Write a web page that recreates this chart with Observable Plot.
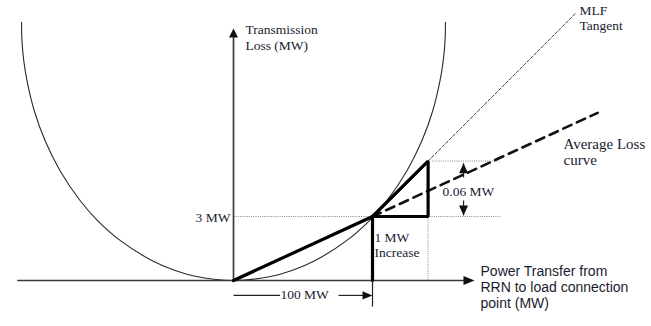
<!DOCTYPE html>
<html><head><meta charset="utf-8">
<script src="https://cdn.jsdelivr.net/npm/d3@7"></script>
<script src="https://cdn.jsdelivr.net/npm/@observablehq/plot@0.6"></script>
<style>html,body{margin:0;padding:0;background:#fff;} #chart svg{display:block;}</style>
</head><body><div id="chart"></div>
<script>
// ---- data (diagram units: x = power transfer in MW, y = transmission loss in MW) ----
const lossCurveX = [-152.5, -152.2, -150.9, -148.6, -143.4, -135.6, -124.9, -110.4, -97.8, -81.6, -58.8, -42.0, -26.8, 0,
                    26.8, 42.0, 58.8, 81.6, 97.8, 110.4, 124.9, 135.6, 143.4, 148.6, 150.9, 152.2, 152.5];
const lossCurveY = [12.10, 11.25, 10.31, 9.38, 7.97, 6.56, 5.16, 3.75, 2.81, 1.88, 0.94, 0.47, 0.19, 0,
                    0.19, 0.47, 0.94, 1.88, 2.81, 3.75, 5.16, 6.56, 7.97, 9.38, 10.31, 11.25, 12.10];

const avgLossX = [0, 100];          // average loss chord, origin to operating point
const avgLossY = [0, 3];
const avgLossExtX = [100, 262];     // dashed continuation
const avgLossExtY = [3, 7.86];
const triangleX = [100, 140, 140, 100];
const triangleY = [3, 5.6, 3, 3];
const tangentX = [140, 246];        // MLF tangent (dotted)
const tangentY = [5.6, 12.52];
const increaseX = [100, 100];       // 1 MW increase marker
const increaseY = [3, 0];

// dotted guide lines
const guideX1 = [0, 143, 140];
const guideY1 = [3, 5.6, 0];
const guideX2 = [192, 192, 140];
const guideY2 = [3, 5.6, 3];

// axes
const axisX1 = [-155.6, 0];
const axisY1 = [0, 0];
const axisX2 = [170, 0];
const axisY2 = [0, 11.5];

// thin annotation lines (dimension line, tick, 0.06 MW stems)
const noteX1 = [0, 75.5, 100, 165.5, 165.5];
const noteY1 = [-0.70, -0.70, 0, 5.5, 3.75];
const noteX2 = [33.5, 95, 100, 165.5, 165.5];
const noteY2 = [-0.70, -0.70, -1.22, 4.83, 3.05];

// arrow tips
const tipUpAxis = {x: 0, y: 11.81};
const tipRightAxis = {x: 173.4, y: 0};
const tipRightDim = {x: 100, y: -0.70};
const tipUpNote = {x: 165.5, y: 5.5};
const tipDownNote = {x: 165.5, y: 3.05};

// labels
const serifText = ["Transmission\nLoss (MW)", "MLF\nTangent", "3 MW", "1 MW\nIncrease", "0.06 MW", "100 MW"];
const serifX = [8.6, 248.9, -2.2, 101.4, 150.4, 33.8];
const serifY = [12.08, 12.98, 2.95, 2.32, 4.15, -0.675];
const serifAnchor = ["top", "top", "middle", "top", "middle", "middle"];
const serifAlign = ["start", "start", "end", "start", "start", "start"];
const serifLH = [1.19, 1.15, 1, 1.13, 1, 1];

const avgLabel = ["Average Loss\ncurve"];
const avgLabelX = [237.4];
const avgLabelY = [6.69];

const xAxisLabel = ["Power Transfer from\nRRN to load connection\npoint (MW)"];
const xAxisLabelX = [177.7];
const xAxisLabelY = [0.75];

// ---- helpers ----
const rows = (xs, ys) => xs.map((x, i) => ({x, y: ys[i]}));
const segs = (x1, y1, x2, y2) => x1.map((v, i) => ({x1: v, y1: y1[i], x2: x2[i], y2: y2[i]}));
function head(dir, L, W) {
  return {draw(ctx) {
    if (dir === "up") { ctx.moveTo(0, 0); ctx.lineTo(-W, L); ctx.lineTo(W, L); }
    else if (dir === "down") { ctx.moveTo(0, 0); ctx.lineTo(-W, -L); ctx.lineTo(W, -L); }
    else { ctx.moveTo(0, 0); ctx.lineTo(-L, -W); ctx.lineTo(-L, W); }
    ctx.closePath();
  }};
}
const ink = "#1b1b2f";
const serif = "'Liberation Serif','Times New Roman',serif";
const sans = "'Liberation Sans',Arial,sans-serif";

const serifRows = serifText.map((t, i) => ({t, x: serifX[i], y: serifY[i], a: serifAnchor[i], al: serifAlign[i], lh: serifLH[i]}));
const textMarks = serifRows.map(d => Plot.text([d], {
  x: "x", y: "y", text: "t", textAnchor: d.al, lineAnchor: d.a, lineHeight: d.lh,
  fontFamily: serif, fontSize: 13.5, fill: ink
}));

const chart = Plot.plot({
  width: 651, height: 326, margin: 0,
  x: {domain: [-167.63, 300.72], axis: null},
  y: {domain: [-2.157, 13.127], axis: null},
  style: {background: "white"},
  marks: [
    Plot.link(segs(guideX1, guideY1, guideX2, guideY2), {x1: "x1", y1: "y1", x2: "x2", y2: "y2", stroke: "#8a8a8a", strokeWidth: 1, strokeDasharray: "1,1.2"}),
    Plot.line(rows(lossCurveX, lossCurveY), {x: "x", y: "y", curve: "catmull-rom", stroke: "#2a2a2a", strokeWidth: 1.1}),
    Plot.line(rows(tangentX, tangentY), {x: "x", y: "y", stroke: "#444", strokeWidth: 1, strokeDasharray: "3,2"}),
    Plot.link(segs(axisX1, axisY1, axisX2, axisY2), {x1: "x1", y1: "y1", x2: "x2", y2: "y2", stroke: "#3a3a3a", strokeWidth: 1.7}),
    Plot.line(rows(avgLossExtX, avgLossExtY), {x: "x", y: "y", stroke: "#111", strokeWidth: 2.6, strokeDasharray: "9,6"}),
    Plot.line(rows(avgLossX, avgLossY), {x: "x", y: "y", stroke: "#000", strokeWidth: 3.2}),
    Plot.line(rows(triangleX, triangleY), {x: "x", y: "y", stroke: "#000", strokeWidth: 3.2, strokeLinejoin: "miter"}),
    Plot.line(rows(increaseX, increaseY), {x: "x", y: "y", stroke: "#000", strokeWidth: 3.2}),
    Plot.link(segs(noteX1, noteY1, noteX2, noteY2), {x1: "x1", y1: "y1", x2: "x2", y2: "y2", stroke: "#222", strokeWidth: 1.2}),
    Plot.dot([tipUpAxis], {x: "x", y: "y", symbol: head("up", 9, 4.5), fill: "#111", stroke: "none"}),
    Plot.dot([tipRightAxis], {x: "x", y: "y", symbol: head("right", 11, 4.5), fill: "#111", stroke: "none"}),
    Plot.dot([tipRightDim], {x: "x", y: "y", symbol: head("right", 10, 4.2), fill: "#111", stroke: "none"}),
    Plot.dot([tipUpNote], {x: "x", y: "y", symbol: head("up", 10, 4.5), fill: "#111", stroke: "none"}),
    Plot.dot([tipDownNote], {x: "x", y: "y", symbol: head("down", 10, 4.5), fill: "#111", stroke: "none"}),
    ...textMarks,
    Plot.text(avgLabel.map((t, i) => ({t, x: avgLabelX[i], y: avgLabelY[i]})), {
      x: "x", y: "y", text: "t", textAnchor: "start", lineAnchor: "top", lineHeight: 1.07,
      fontFamily: serif, fontSize: 15, fill: ink
    }),
    Plot.text(xAxisLabel.map((t, i) => ({t, x: xAxisLabelX[i], y: xAxisLabelY[i]})), {
      x: "x", y: "y", text: "t", textAnchor: "start", lineAnchor: "top", lineHeight: 1.14,
      fontFamily: sans, fontSize: 14, fill: ink
    })
  ]
});
document.getElementById("chart").append(chart);
</script></body></html>
